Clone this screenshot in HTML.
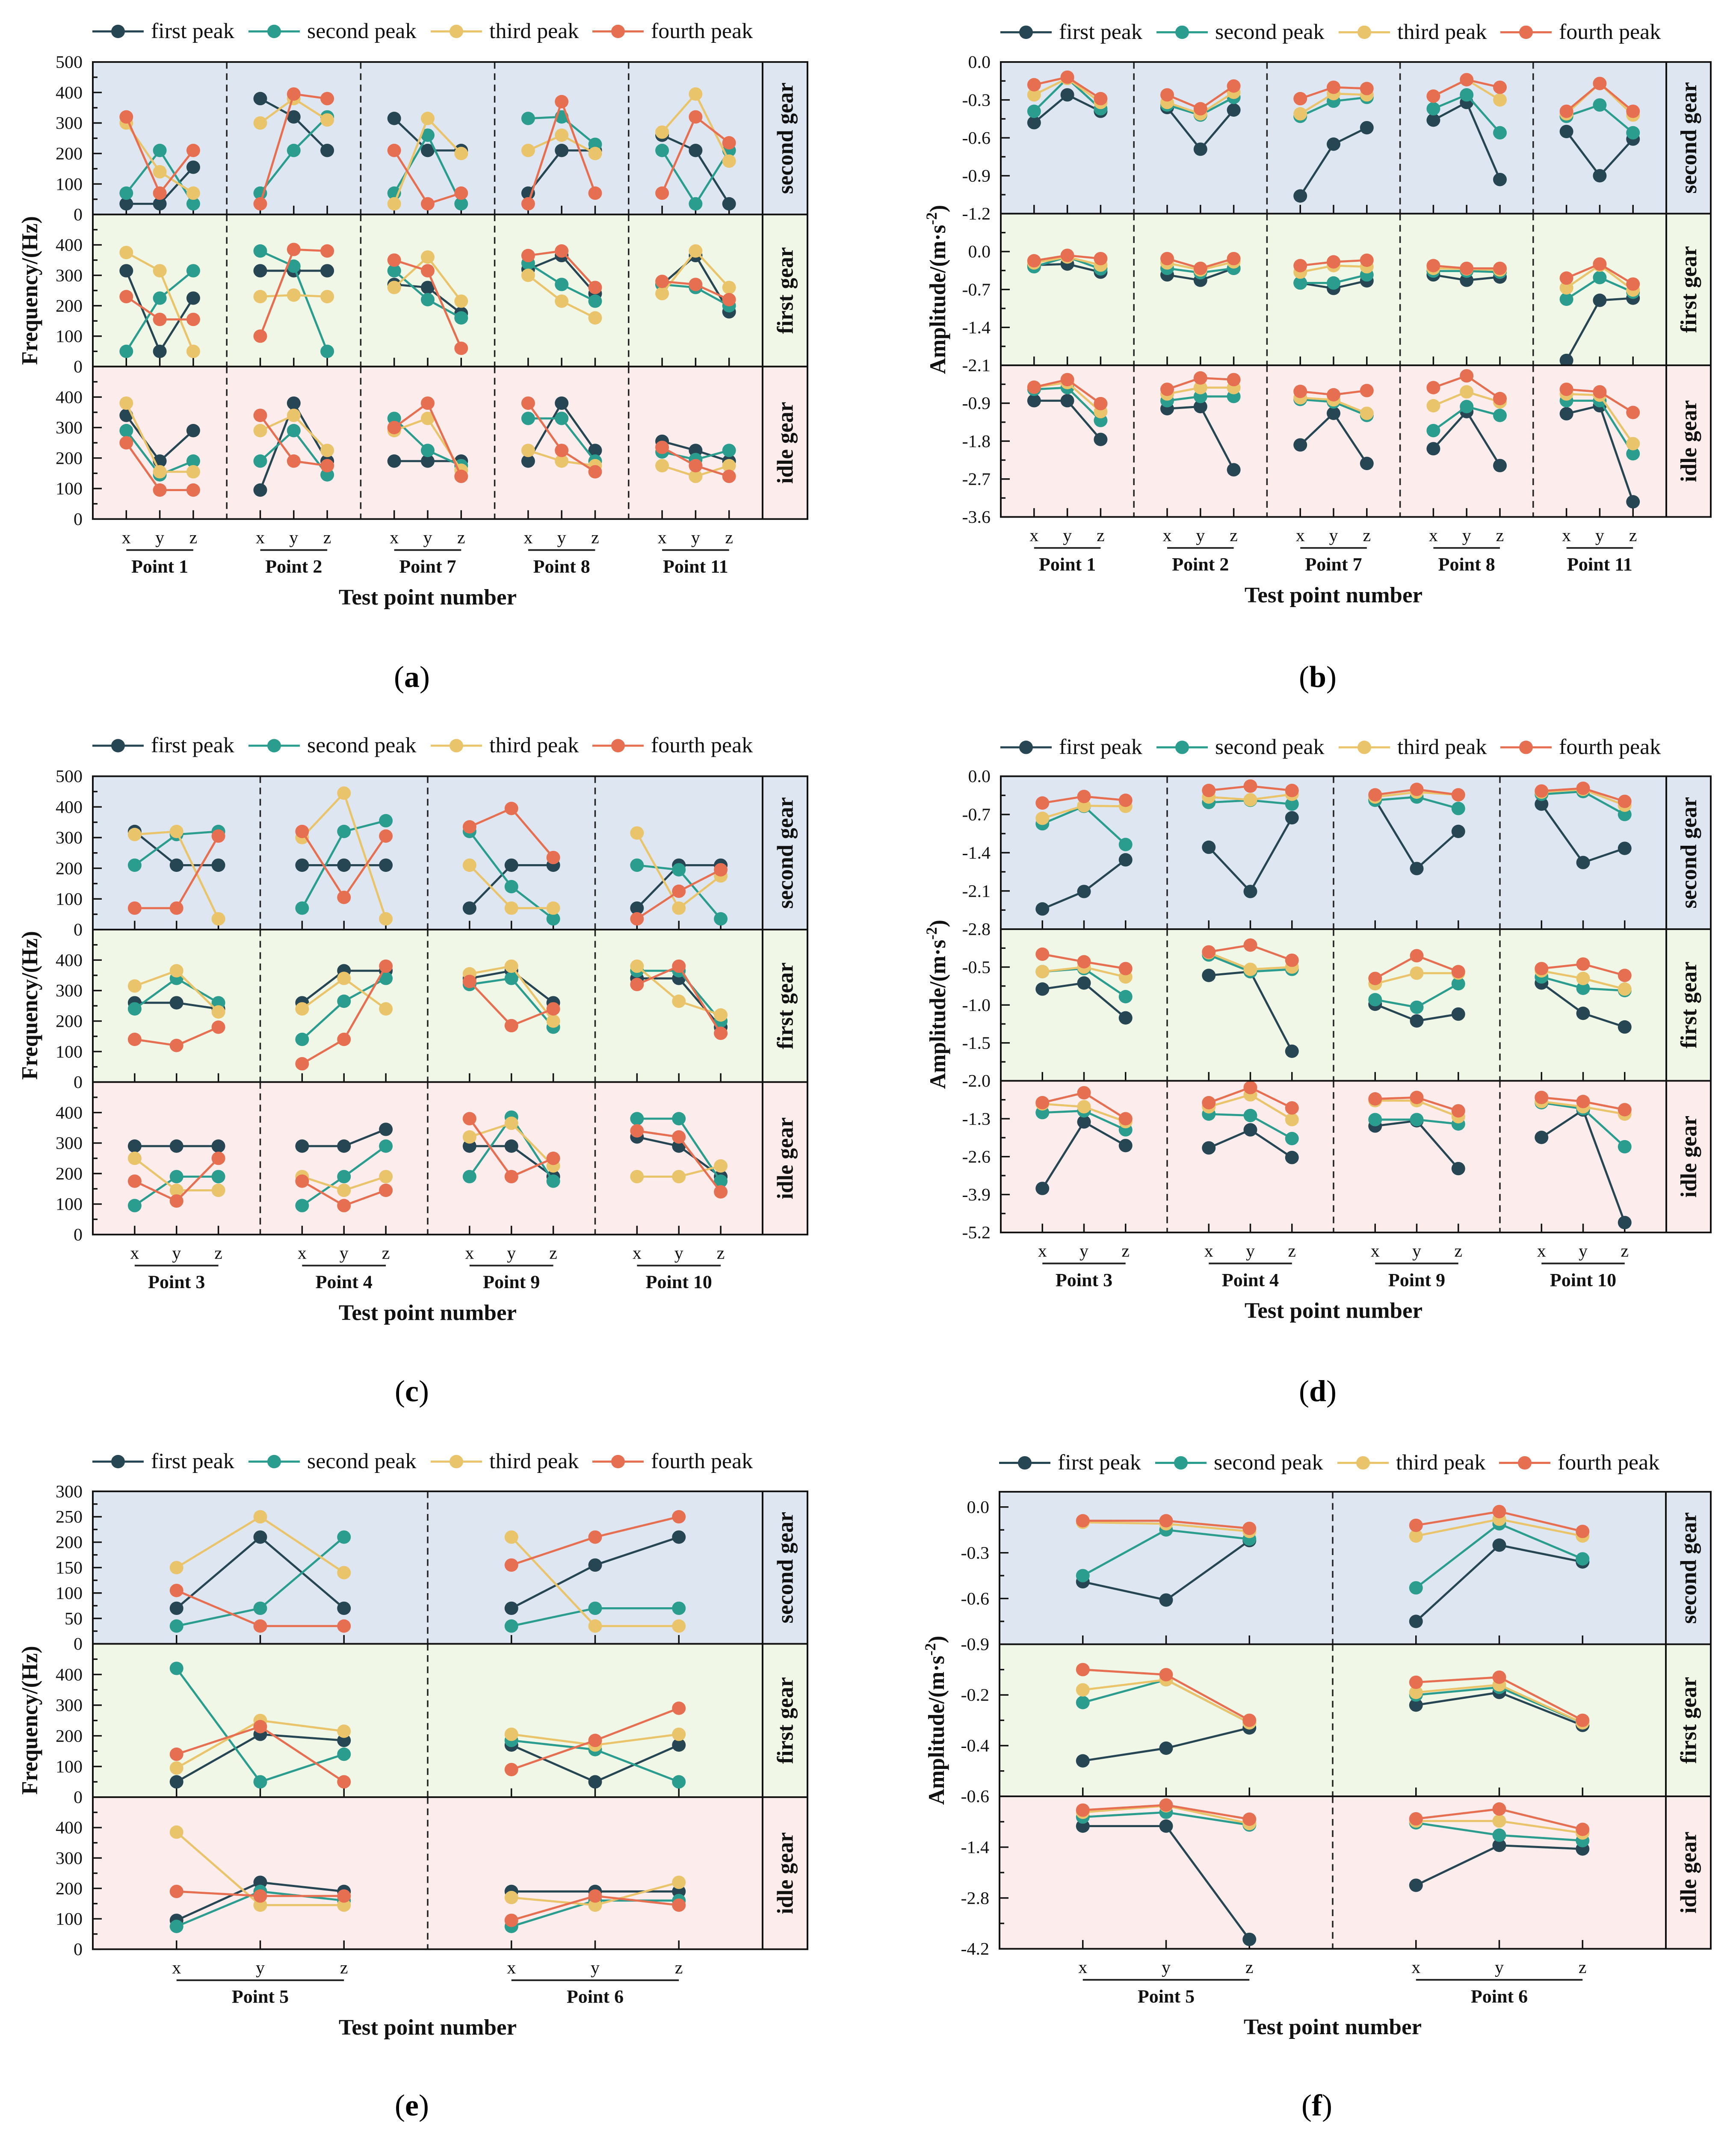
<!DOCTYPE html>
<html><head><meta charset="utf-8"><style>
html,body{margin:0;padding:0;background:#fff;width:100vw;height:100vh;overflow:hidden;}
svg{display:block;width:100vw;height:100vh;font-family:"Liberation Serif",serif;}
</style></head><body>
<svg id="chart" xmlns="http://www.w3.org/2000/svg" viewBox="0 0 4059 5106" preserveAspectRatio="none" font-family="Liberation Serif, serif"></svg>
<script>
// ---------- DATA ----------
const seriesNames = ["first peak","second peak","third peak","fourth peak"];
const rowNames = ["second gear","first gear","idle gear"];
const axisLabels = ["x","y","z"];

const aGroups = ["Point 1","Point 2","Point 7","Point 8","Point 11"];
const aFirst = [[35,35,155,380,320,210,315,210,210,70,210,210,260,210,35],[315,50,225,315,315,315,270,260,175,320,365,240,270,365,180],[340,190,290,95,380,190,190,190,190,190,380,225,255,225,190]];
const aSecond = [[70,210,35,70,210,320,70,260,35,315,320,230,210,35,210],[50,225,315,380,330,50,315,220,160,340,270,215,270,260,200],[290,145,190,190,290,145,330,225,175,330,330,190,220,195,225]];
const aThird = [[300,140,70,300,380,310,35,315,200,210,260,200,270,395,175],[375,315,50,230,235,230,260,360,215,300,215,160,240,380,260],[380,155,155,290,340,225,290,330,160,225,190,175,175,140,175]];
const aFourth = [[320,70,210,35,395,380,210,35,70,35,370,70,70,320,235],[230,155,155,100,385,380,350,315,60,365,380,260,280,270,220],[250,95,95,340,190,175,300,380,140,380,225,155,235,175,140]];

const bGroups = ["Point 1","Point 2","Point 7","Point 8","Point 11"];
const bFirst = [[-0.48,-0.26,-0.39,-0.36,-0.69,-0.38,-1.06,-0.65,-0.52,-0.46,-0.32,-0.93,-0.55,-0.9,-0.61],[-0.25,-0.23,-0.38,-0.43,-0.53,-0.31,-0.58,-0.68,-0.54,-0.43,-0.53,-0.47,-2.01,-0.9,-0.86],[-0.84,-0.84,-1.76,-1.03,-0.98,-2.48,-1.89,-1.14,-2.33,-1.98,-1.1,-2.38,-1.15,-0.96,-3.24]];
const bSecond = [[-0.39,-0.13,-0.37,-0.34,-0.42,-0.28,-0.43,-0.31,-0.28,-0.37,-0.26,-0.56,-0.43,-0.34,-0.56],[-0.28,-0.1,-0.32,-0.31,-0.39,-0.31,-0.58,-0.58,-0.43,-0.36,-0.36,-0.38,-0.88,-0.48,-0.75],[-0.57,-0.53,-1.31,-0.84,-0.74,-0.74,-0.81,-0.87,-1.19,-1.55,-0.98,-1.19,-0.84,-0.84,-2.1]];
const bThird = [[-0.26,-0.13,-0.32,-0.32,-0.41,-0.24,-0.41,-0.25,-0.26,-0.27,-0.14,-0.30,-0.41,-0.17,-0.42],[-0.21,-0.1,-0.25,-0.21,-0.34,-0.19,-0.38,-0.26,-0.28,-0.31,-0.32,-0.34,-0.67,-0.25,-0.71],[-0.52,-0.41,-1.1,-0.68,-0.53,-0.53,-0.77,-0.82,-1.14,-0.96,-0.63,-0.87,-0.68,-0.71,-1.86]];
const bFourth = [[-0.18,-0.12,-0.29,-0.26,-0.37,-0.19,-0.29,-0.2,-0.21,-0.27,-0.14,-0.2,-0.39,-0.17,-0.39],[-0.17,-0.07,-0.13,-0.13,-0.31,-0.13,-0.26,-0.19,-0.16,-0.26,-0.31,-0.31,-0.49,-0.23,-0.6],[-0.52,-0.34,-0.91,-0.57,-0.3,-0.34,-0.62,-0.7,-0.6,-0.53,-0.25,-0.79,-0.57,-0.63,-1.12]];

const cGroups = ["Point 3","Point 4","Point 9","Point 10"];
const cFirst = [[320,210,210,210,210,210,70,210,210,70,210,210],[260,260,240,260,365,365,340,365,260,340,340,180],[290,290,290,290,290,345,290,290,190,320,290,190]];
const cSecond = [[210,310,320,70,320,355,320,140,35,210,195,35],[240,340,260,140,265,340,320,340,180,365,365,200],[95,190,190,95,190,290,190,385,175,380,380,175]];
const cThird = [[310,320,35,300,445,35,210,70,70,315,70,175],[315,365,230,240,340,240,355,380,200,380,265,220],[250,145,145,190,145,190,320,365,225,190,190,225]];
const cFourth = [[70,70,305,320,105,305,335,395,235,35,125,195],[140,120,180,60,140,380,330,185,240,320,380,160],[175,110,250,175,95,145,380,190,250,340,320,140]];

const dGroups = ["Point 3","Point 4","Point 9","Point 10"];
const dFirst = [[-2.43,-2.11,-1.53,-1.3,-2.11,-0.76,-0.43,-1.69,-1.01,-0.51,-1.58,-1.32],[-0.79,-0.71,-1.17,-0.61,-0.56,-1.61,-0.99,-1.21,-1.12,-0.71,-1.11,-1.29],[-3.69,-1.41,-2.22,-2.3,-1.68,-2.63,-1.55,-1.37,-3.01,-1.94,-1.0,-4.86]];
const dSecond = [[-0.87,-0.55,-1.25,-0.48,-0.44,-0.51,-0.44,-0.38,-0.59,-0.33,-0.28,-0.7],[-0.56,-0.52,-0.89,-0.34,-0.56,-0.53,-0.93,-1.03,-0.72,-0.63,-0.78,-0.81],[-1.09,-1.03,-1.68,-1.14,-1.19,-1.98,-1.33,-1.33,-1.48,-0.75,-0.96,-2.26]];
const dThird = [[-0.77,-0.54,-0.55,-0.38,-0.43,-0.33,-0.38,-0.29,-0.34,-0.29,-0.24,-0.53],[-0.56,-0.5,-0.63,-0.31,-0.53,-0.5,-0.72,-0.58,-0.58,-0.55,-0.65,-0.79],[-0.79,-0.89,-1.4,-0.89,-0.48,-1.33,-0.68,-0.68,-1.23,-0.71,-0.89,-1.14]];
const dFourth = [[-0.49,-0.37,-0.44,-0.26,-0.18,-0.26,-0.34,-0.24,-0.34,-0.27,-0.22,-0.46],[-0.33,-0.43,-0.52,-0.3,-0.21,-0.41,-0.65,-0.35,-0.56,-0.52,-0.46,-0.61],[-0.75,-0.41,-1.3,-0.75,-0.23,-0.93,-0.62,-0.57,-1.03,-0.57,-0.71,-0.99]];

const eGroups = ["Point 5","Point 6"];
const eFirst = [[70,210,70,70,155,210],[50,205,185,170,50,170],[95,220,190,190,190,190]];
const eSecond = [[35,70,210,35,70,70],[420,50,140,185,155,50],[75,190,160,75,160,160]];
const eThird = [[150,250,140,210,35,35],[95,250,215,205,170,205],[385,145,145,170,145,220]];
const eFourth = [[105,35,35,155,210,250],[140,230,50,90,185,290],[190,175,175,95,175,145]];

const fGroups = ["Point 5","Point 6"];
const fFirst = [[-0.49,-0.61,-0.22,-0.75,-0.25,-0.36],[-0.46,-0.41,-0.33,-0.24,-0.19,-0.32],[-0.82,-0.82,-3.94,-2.45,-1.35,-1.45]];
const fSecond = [[-0.45,-0.15,-0.21,-0.53,-0.11,-0.34],[-0.23,-0.14,-0.31,-0.2,-0.17,-0.31],[-0.57,-0.44,-0.79,-0.73,-1.07,-1.22]];
const fThird = [[-0.1,-0.11,-0.16,-0.19,-0.08,-0.19],[-0.18,-0.14,-0.31,-0.19,-0.16,-0.31],[-0.44,-0.26,-0.75,-0.68,-0.68,-1.01]];
const fFourth = [[-0.09,-0.09,-0.14,-0.12,-0.03,-0.16],[-0.1,-0.12,-0.3,-0.15,-0.13,-0.3],[-0.38,-0.24,-0.63,-0.62,-0.35,-0.91]];

// axis ranges per row: [min, max, majorStep, minorStep]
const aRanges = [[0,500,100,50],[0,500,100,50],[0,500,100,50]];
const bRanges = [[-1.2,0,0.3,0.15],[-2.1,0.7,0.7,0.35],[-3.6,0,0.9,0.45]];
const cRanges = [[0,500,100,50],[0,500,100,50],[0,500,100,50]];
const dRanges = [[-2.8,0,0.7,0.35],[-2.0,0,0.5,0.25],[-5.2,0,1.3,0.65]];
const eRanges = [[0,300,50,25],[0,500,100,50],[0,500,100,50]];
const fRanges = [[-0.9,0.1,0.3,0.15],[-0.6,0,0.2,0.1],[-4.2,0,1.4,0.7]];

// ---------- RENDER ----------
const NS = "http://www.w3.org/2000/svg";
const svg = document.getElementById("chart");
const colors = ["#264653","#2a9d8f","#e9c46a","#e76f51"];
const rowBg = ["#dee7f1","#f0f7e6","#fcecec"];
function mk(tag, attrs, parent){
  const e = document.createElementNS(NS, tag);
  for (const k in attrs) e.setAttribute(k, attrs[k]);
  (parent||svg).appendChild(e);
  return e;
}
function txt(s, attrs, parent){ const t = mk("text", attrs, parent); t.textContent = s; return t; }

function panel(cfg){
  const g = mk("g", {});
  
  
  const L = cfg.L, R = cfg.R, SR = cfg.SR, B = cfg.bounds;
  const nG = cfg.groups.length, gw = (R-L)/nG;
  const xPos = (i) => L + Math.floor(i/3)*gw + (i%3+1)*gw/4;
  const leg = mk("g", {}, g);
  
  
  const legOff = [59, 424, 850, 1228];
  seriesNames.forEach((n, s) => {
    const it = mk("g", {}, leg);
    
    
    const cx = L + legOff[s];
    mk("line", {x1:cx-60, y1:cfg.legY, x2:cx+60, y2:cfg.legY, stroke:colors[s], "stroke-width":5}, it);
    mk("circle", {cx:cx, cy:cfg.legY, r:16, fill:colors[s]}, it);
    txt(n, {x:cx+77, y:cfg.legY+16, "font-size":52, fill:"#111"}, it);
  });
  for (let r=0; r<3; r++){
    const top = B[r], bot = B[r+1];
    const [mn, mx, step, mstep] = cfg.ranges[r];
    const ys = (v) => bot - (v-mn)/(mx-mn)*(bot-top);
    const dec = Number.isInteger(step) ? 0 : 1;
    const row = mk("g", {}, g);
    
    
    mk("rect", {x:L, y:top, width:SR-L, height:bot-top, fill:rowBg[r]}, row);
    for (let k=1; k<nG; k++){
      mk("line", {x1:L+k*gw, y1:top, x2:L+k*gw, y2:bot, stroke:"#222", "stroke-width":3.5, "stroke-dasharray":"16,11"}, row);
    }
    const nMin = Math.floor((mx-mn)/mstep + 1e-6);
    for (let k=0; k<=nMin; k++){
      const v = mn + k*mstep, y = ys(v);
      if (y < top - 1) continue;
      const major = (k % 2 === 0);
      mk("line", {x1:L, y1:y, x2:L+(major?21:11), y2:y, stroke:"#111", "stroke-width":3.5}, row);
      const isTop = Math.abs(y - top) < 2;
      if (major && (r===0 || !isTop)){
        const lab = txt((Math.abs(v)<1e-9?0:v).toFixed(dec), {x:L-24, y:y+14, "font-size":42, "text-anchor":"end", fill:"#111"}, row);
        
        
      }
    }
    const nP = nG*3;
    for (let i=0; i<nP; i++){
      mk("line", {x1:xPos(i), y1:bot, x2:xPos(i), y2:bot-21, stroke:"#111", "stroke-width":3.5}, row);
    }
    const vals = cfg.series[r];
    vals.forEach((arr, s) => {
      const sg = mk("g", {}, row);
      
      
      for (let gi=0; gi<nG; gi++){
        const pts = [0,1,2].map(k => xPos(gi*3+k).toFixed(1)+","+ys(arr[gi*3+k]).toFixed(1)).join(" ");
        mk("polyline", {points:pts, fill:"none", stroke:colors[s], "stroke-width":5}, sg);
      }
      arr.forEach((v, i) => {
        const c = mk("circle", {cx:xPos(i), cy:ys(v), r:16, fill:colors[s]}, sg);
        
        
      });
    });
    mk("rect", {x:L, y:top, width:SR-L, height:bot-top, fill:"none", stroke:"#111", "stroke-width":4}, row);
    mk("line", {x1:R, y1:top, x2:R, y2:bot, stroke:"#111", "stroke-width":4}, row);
    const st = txt(rowNames[r], {x:0, y:0, "font-size":53, "font-weight":"bold", "text-anchor":"middle", fill:"#111",
      transform:"translate("+((R+SR)/2+18)+","+((top+bot)/2)+") rotate(-90)"}, row);
    
    
  }
  const bot = B[3];
  for (let gi=0; gi<nG; gi++){
    const gg = mk("g", {}, g);
    
    
    for (let k=0; k<3; k++) txt(axisLabels[k], {x:xPos(gi*3+k), y:bot+58, "font-size":42, "text-anchor":"middle", fill:"#111"}, gg);
    mk("line", {x1:xPos(gi*3), y1:bot+74, x2:xPos(gi*3+2), y2:bot+74, stroke:"#222", "stroke-width":4}, gg);
    txt(cfg.groups[gi], {x:xPos(gi*3+1), y:bot+128, "font-size":44, "font-weight":"bold", "text-anchor":"middle", fill:"#111"}, gg);
  }
  const xt = txt("Test point number", {x:(L+R)/2, y:bot+204, "font-size":53, "font-weight":"bold", "text-anchor":"middle", fill:"#111"}, g);
  
  
  const yt = txt(cfg.yTitle, {x:0, y:0, "font-size":53, "font-weight":"bold", "text-anchor":"middle", fill:"#111",
    transform:"translate("+(L-130)+","+((B[0]+bot)/2)+") rotate(-90)"}, g);
  if (cfg.sup){ const sp = mk("tspan", {"baseline-shift":"super", "font-size":36}, yt); sp.textContent = "-2"; const t2 = mk("tspan", {}, yt); t2.textContent = ")"; }
  
  
  const pl = mk("text", {x:(L+R)/2-37, y:cfg.labY, "font-size":72, "text-anchor":"middle", fill:"#000"}, g);
  
  
  const p1 = mk("tspan", {}, pl); p1.textContent = "(";
  const p2 = mk("tspan", {"font-weight":"bold"}, pl); p2.textContent = cfg.id;
  const p3 = mk("tspan", {}, pl); p3.textContent = ")";
}
function rows(f,s,t,q){ return [0,1,2].map(r => [f[r], s[r], t[r], q[r]]); }
const freqTitle = "Frequency/(Hz)";
const ampTitle = "Amplitude/(m\u00b7s";
panel({id:"a", L:217, R:1783, SR:1888, bounds:[148,512,875,1239], legY:75, labY:1640, groups:aGroups, ranges:aRanges, series:rows(aFirst,aSecond,aThird,aFourth), yTitle:freqTitle});
panel({id:"b", L:2340, R:3896, SR:4000, bounds:[148,510,872,1234], legY:77, labY:1640, groups:bGroups, ranges:bRanges, series:rows(bFirst,bSecond,bThird,bFourth), yTitle:ampTitle, sup:true});
panel({id:"c", L:217, R:1783, SR:1888, bounds:[1853,2219,2583,2947], legY:1780, labY:3345, groups:cGroups, ranges:cRanges, series:rows(cFirst,cSecond,cThird,cFourth), yTitle:freqTitle});
panel({id:"d", L:2340, R:3896, SR:4000, bounds:[1853,2218,2580,2942], legY:1784, labY:3345, groups:dGroups, ranges:dRanges, series:rows(dFirst,dSecond,dThird,dFourth), yTitle:ampTitle, sup:true});
panel({id:"e", L:217, R:1783, SR:1888, bounds:[3560,3924,4290,4653], legY:3489, labY:5050, groups:eGroups, ranges:eRanges, series:rows(eFirst,eSecond,eThird,eFourth), yTitle:freqTitle});
panel({id:"f", L:2337, R:3895, SR:4000, bounds:[3561,3925,4288,4652], legY:3492, labY:5050, groups:fGroups, ranges:fRanges, series:rows(fFirst,fSecond,fThird,fFourth), yTitle:ampTitle, sup:true});
</script>
</body></html>
